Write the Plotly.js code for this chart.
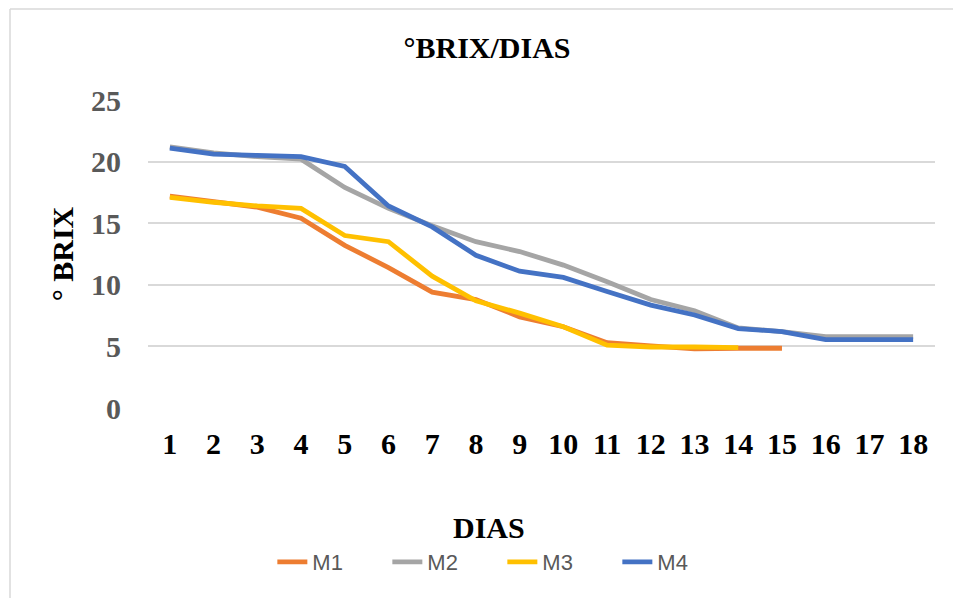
<!DOCTYPE html>
<html>
<head>
<meta charset="utf-8">
<script src="https://cdn.plot.ly/plotly-3.0.1.min.js"></script>
<style>
html,body{margin:0;padding:0;background:#fff;}
#chart{width:953px;height:598px;}
</style>
</head>
<body>
<div id="chart"></div>
<script>
const days = ["1","2","3","4","5","6","7","8","9","10","11","12","13","14","15","16","17","18"];
const M1 = [17.2, 16.75, 16.3, 15.4, 13.2, 11.4, 9.4, 8.8, 7.4, 6.6, 5.3, 5.05, 4.8, 4.85, 4.85];
const M2 = [21.2, 20.7, 20.4, 20.2, 17.9, 16.2, 14.8, 13.5, 12.7, 11.6, 10.25, 8.8, 7.9, 6.5, 6.2, 5.8, 5.8, 5.8];
const M3 = [17.1, 16.7, 16.4, 16.2, 14.0, 13.5, 10.7, 8.7, 7.7, 6.6, 5.1, 4.95, 4.95, 4.9];
const M4 = [21.1, 20.6, 20.5, 20.4, 19.6, 16.4, 14.7, 12.4, 11.1, 10.6, 9.45, 8.35, 7.55, 6.45, 6.2, 5.55, 5.55, 5.55];
const seriesNames = ["M1","M2","M3","M4"];
const seriesData = [M1, M2, M3, M4];
const colors = ["#ED7D31","#A5A5A5","#FFC000","#4472C4"];

const traces = seriesData.map((vals, i) => ({
  type: "scatter",
  mode: "lines",
  name: seriesNames[i],
  x: days.slice(0, vals.length),
  y: vals,
  line: {color: colors[i], width: 4.8, shape: "linear"},
  hoverinfo: "x+y+name"
}));

const serif = "Liberation Serif, Times New Roman, serif";

const layout = {
  width: 953,
  height: 598,
  margin: {l: 148, r: 18, t: 100, b: 190},
  paper_bgcolor: "#ffffff",
  plot_bgcolor: "#ffffff",
  showlegend: true,
  title: {
    text: "<b>°BRIX/DIAS</b>",
    font: {family: serif, size: 30, color: "#000000"},
    x: 487/953, xref: "container", xanchor: "center",
    y: 1 - 47/598, yref: "container", yanchor: "middle"
  },
  xaxis: {
    type: "category",
    categoryorder: "array",
    categoryarray: days,
    range: [-0.5, days.length - 0.5],
    tickfont: {family: serif, size: 30, color: "#000000", weight: "bold"},
    showgrid: false,
    zeroline: false,
    showline: false,
    ticks: "",
    ticklabelstandoff: 15,
    title: {text: ""},
    fixedrange: true
  },
  yaxis: {
    range: [0, 25],
    dtick: 5,
    tick0: 0,
    tickfont: {family: serif, size: 30, color: "#595959", weight: "bold"},
    showgrid: true,
    gridcolor: "#D9D9D9",
    gridwidth: 1.5,
    zeroline: false,
    showline: false,
    ticks: "",
    ticklabelstandoff: 26,
    title: {text: "<b>° BRIX</b>", font: {family: serif, size: 30, color: "#000000"}, standoff: 8},
    fixedrange: true
  },
  annotations: [
    {text: "<b>DIAS</b>", xref: "paper", yref: "paper", x: (489-148)/787, y: (408-527)/308,
     xanchor: "center", yanchor: "middle", showarrow: false,
     font: {family: serif, size: 30, color: "#000000"}}
  ],
  legend: {
    orientation: "h",
    x: 0.158, xanchor: "left", xref: "paper",
    y: -0.5, yanchor: "middle", yref: "paper",
    font: {family: "Liberation Sans, Arial, sans-serif", size: 22, color: "#595959"},
    entrywidth: 70,
    entrywidthmode: "pixels",
    bgcolor: "rgba(0,0,0,0)"
  },
  shapes: [
    {type: "line", xref: "paper", yref: "paper", x0: -138/787, x1: 1.05, y0: 399/308, y1: 399/308, line: {color: "#D9D9D9", width: 1.5}},
    {type: "line", xref: "paper", yref: "paper", x0: -138/787, x1: -138/787, y0: 399/308, y1: -0.65, line: {color: "#D9D9D9", width: 1.5}}
  ]
};

Plotly.newPlot("chart", traces, layout, {displayModeBar: false, staticPlot: false});
</script>
</body>
</html>
